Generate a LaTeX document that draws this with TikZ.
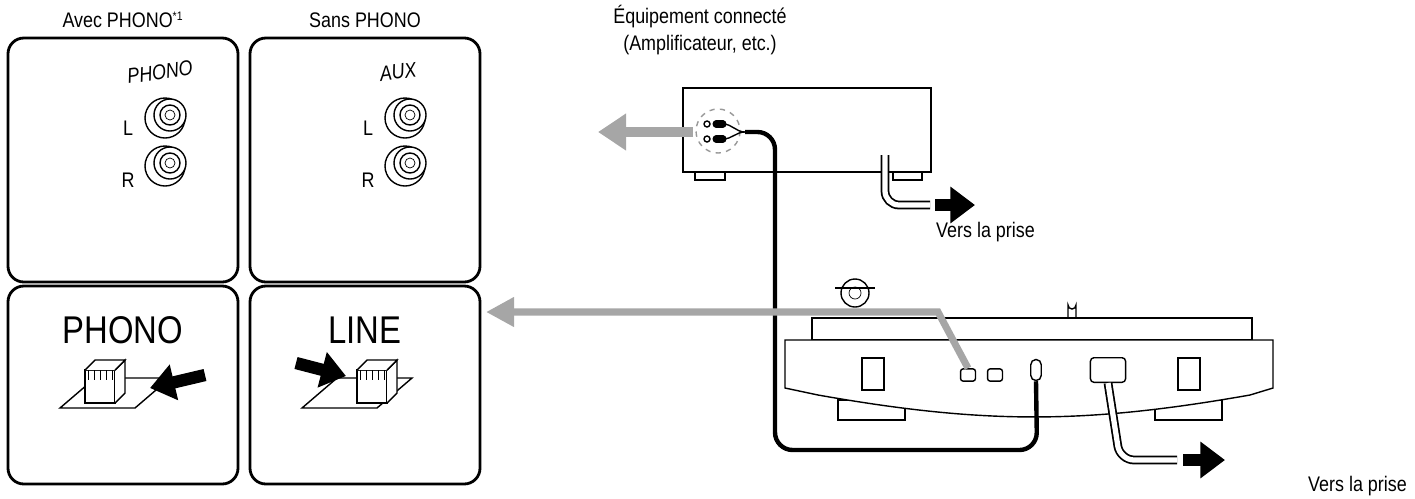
\documentclass[tikz,border=0pt]{standalone}
\usepackage{fontspec}
\setmainfont[FakeStretch=0.85]{Liberation Sans}
\usetikzlibrary{positioning,arrows.meta,calc}
\newcommand{\rcajack}[1]{%
  \draw[thick,fill=white] ($(#1)+(-5,3)$) circle (20);
  \draw[thick,fill=white] (#1) circle (16);
  \draw[thick] (#1) circle (10);
  \draw (#1) circle (5);}
\begin{document}
\begin{tikzpicture}[x=0.02cm,y=-0.02cm,
    panel/.style={draw,line width=1.6pt,rounded corners=9pt},
    gray_arrow/.style={line width=6pt,color=black!35,-{Triangle[length=16pt,width=20pt]}},
    gray_line/.style={line width=4pt,color=black!35,-{Triangle[length=16pt,width=16pt]}},
    black_arrow/.style={line width=7pt,-{Triangle[length=14pt,width=20pt]}},
    cable/.style={line width=2.5pt,rounded corners=10pt},
    cord/.style={double=white,double distance=3pt,line width=1pt,rounded corners=8pt},
    lbl/.style={font=\fontsize{12}{15}\selectfont},
    body/.style={draw,thick,fill=white}
]
\useasboundingbox (0,0) rectangle (1415,498);
% panels
\node[lbl] (avec) at (123,20) {Avec PHONO\textsuperscript{\scriptsize *1}};
\node[lbl] (sans) at (365,20) {Sans PHONO};
\draw[panel] (8,38) rectangle (238,282);
\draw[panel] (8,286) rectangle (238,484);
\draw[panel] (250,38) rectangle (480,282);
\draw[panel] (250,286) rectangle (480,484);
\node[lbl,font=\fontsize{12}{14}\selectfont\itshape,rotate=8] (phonojack) at (160,72) {PHONO};
\node[lbl,font=\fontsize{12}{14}\selectfont\itshape,rotate=8] (auxjack) at (398,72) {AUX};
\node[lbl] (l1) at (128,128) {L};
\node[lbl] (r1) at (128,180) {R};
\node[lbl] (l2) at (368,128) {L};
\node[lbl] (r2) at (368,180) {R};
\coordinate (j1) at (170,115); \coordinate (j2) at (170,163);
\coordinate (j3) at (410,115); \coordinate (j4) at (410,163);
\rcajack{j1} \rcajack{j2} \rcajack{j3} \rcajack{j4}
\node[font=\fontsize{22}{26}\selectfont] (phonosw) at (123,330) {PHONO};
\node[font=\fontsize{22}{26}\selectfont] (linesw) at (365,330) {LINE};
% switch sketches
\draw[thick,fill=white] (95,378)--(60,408)--(135,408)--(170,378)--cycle;
\draw[thick,fill=white] (85,370) rectangle (115,403);
\draw[thick,fill=white] (115,370)--(125,360)--(125,393)--(115,403);
\draw[thick,fill=white] (85,370)--(95,360)--(125,360)--(115,370);
\foreach \i in {0,1,2,3,4} \draw ($(88,370)+(\i*6,0)$)--++(0,10);
\draw[black_arrow] (205,375)--(150,388);
\draw[thick,fill=white] (337,378)--(302,408)--(377,408)--(412,378)--cycle;
\draw[thick,fill=white] (357,370) rectangle (387,403);
\draw[thick,fill=white] (387,370)--(397,360)--(397,393)--(387,403);
\draw[thick,fill=white] (357,370)--(367,360)--(397,360)--(387,370);
\foreach \i in {0,1,2,3,4} \draw ($(360,370)+(\i*6,0)$)--++(0,10);
\draw[black_arrow] (296,363)--(346,376);
% amplifier
\node[lbl,align=center] (equip) at (700,30) {Équipement connecté\\(Amplificateur, etc.)};
\draw[thick] (695,172) rectangle (725,180);
\draw[thick] (893,172) rectangle (922,180);
\draw[body] (683,88) rectangle (931,172);
\draw[dashed,thick,black!40] (718,131) circle (22);
\draw[thick] (707,124) circle (3); \draw[thick] (707,139) circle (3);
\draw[line width=4pt,line cap=round] (716,124)--(723,124) (716,139)--(723,139);
\draw[thick] (723,124) to[out=0,in=180] (745,132) (723,139) to[out=0,in=180] (745,132);
\coordinate (ampout) at (745,132);
\coordinate (ampcord) at (885,155);
\draw[cord] (ampcord)--(885,205)--(930,205);
\draw[black_arrow] (935,205)--(975,205);
\node[lbl,anchor=west] (prise1) at (930,232) {Vers la prise};
\draw[gray_arrow] (693,132)--(598,132);
% turntable
\draw[thick] (855,293) circle (14); \draw (855,293) circle (6);
\draw[thick] (835,288)--(875,288);
\draw[thick] (1068,318)--(1068,305) arc (180:0:4)--(1076,318);
\draw[body] (812,318) rectangle (1252,340);
\draw[body] (838,400) rectangle (905,420);
\draw[body] (1155,400) rectangle (1222,420);
\draw[body] (785,340)--(1273,340)--(1273,388)--(1250,395) to[out=-170,in=-10] (818,395)--(785,388)--cycle;
\draw[thick] (862,358) rectangle (884,390);
\draw[thick] (1178,358) rectangle (1200,390);
\node[draw,thick,rounded corners=1.5pt,minimum width=8.5pt,minimum height=7pt,inner sep=0pt] (sw1) at (968,375) {};
\node[draw,thick,rounded corners=1.5pt,minimum width=8.5pt,minimum height=7pt,inner sep=0pt] (sw2) at (995,375) {};
\node[draw,thick,rounded corners=3pt,minimum width=6pt,minimum height=12pt,inner sep=0pt] (plug) at (1036,370) {};
\node[draw,thick,rounded corners=2pt,minimum width=20pt,minimum height=14pt,inner sep=0pt] (socket) at (1108,370) {};
% connections
\draw[cable] (ampout)--(775,132)--(775,450)--(1037,450)--(plug.south);
\draw[cord] (socket.south)--(1120,460)--(1177,460);
\draw[black_arrow] (1183,460)--(1225,460);
\node[lbl,anchor=east] (prise2) at (1413,486) {Vers la prise};
\draw[gray_line] (sw1.north)--(938,312)--(486,312);
\end{tikzpicture}
\end{document}
